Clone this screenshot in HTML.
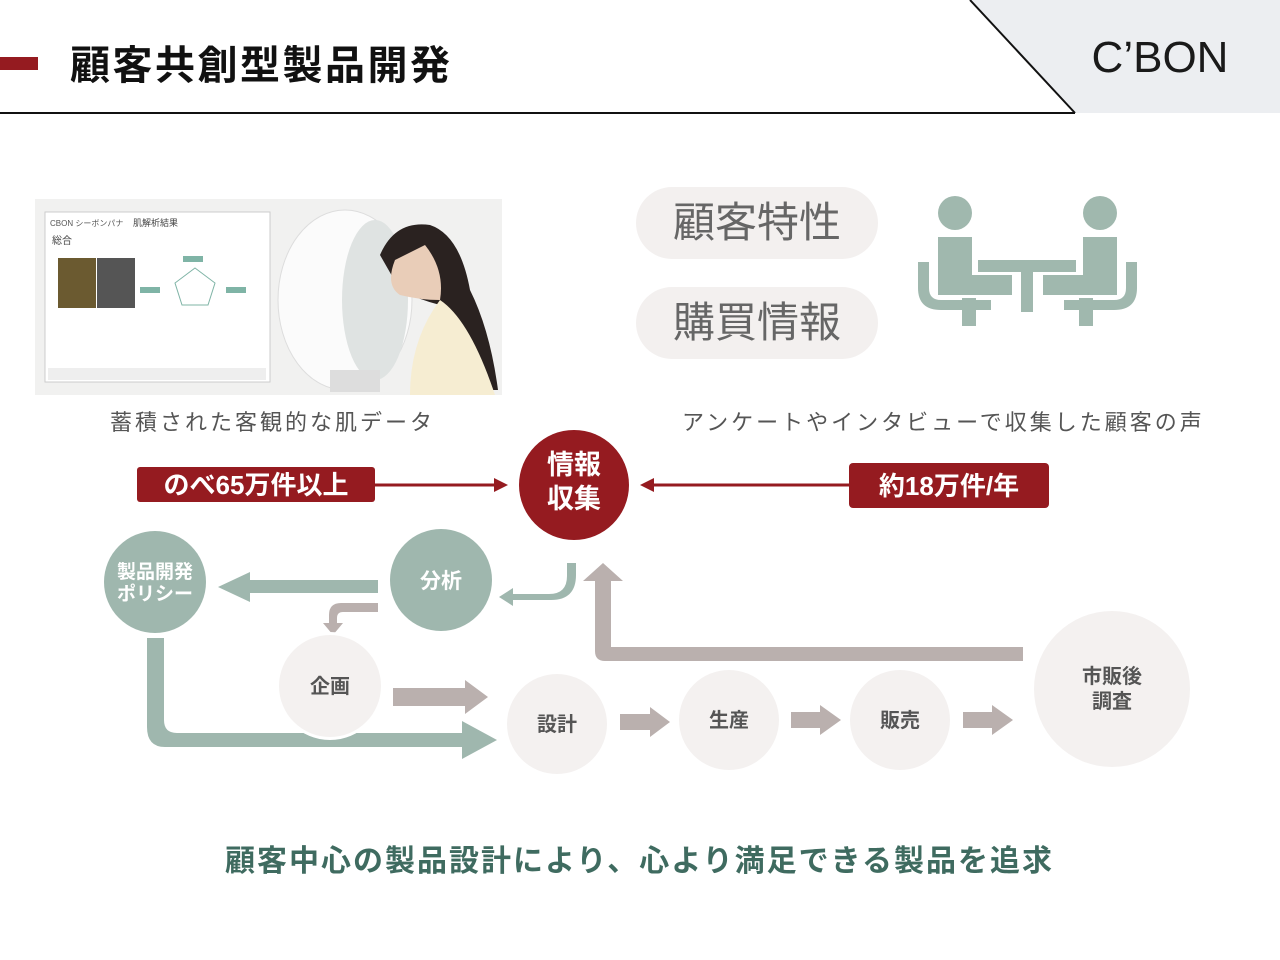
<!DOCTYPE html>
<html><head><meta charset="utf-8"><style>
body{margin:0;width:1280px;height:960px;background:#fff;overflow:hidden}
svg{display:block}
text{font-family:"Liberation Sans","Noto Sans CJK JP",sans-serif}
</style></head><body>
<svg width="1280" height="960" viewBox="0 0 1280 960">
<polygon points="970,0 1280,0 1280,113 1075,113" fill="#eceef1"/>
<line x1="970" y1="0" x2="1075" y2="113" stroke="#111" stroke-width="2"/>
<line x1="0" y1="113" x2="1075" y2="113" stroke="#111" stroke-width="2"/>
<rect x="0" y="57" width="38" height="13" fill="#951b20"/>
<text x="70" y="79" font-size="40" font-weight="bold" fill="#111" letter-spacing="2.5">顧客共創型製品開発</text>
<text x="1160" y="72" font-size="44" fill="#1a1a1a" text-anchor="middle">C’BON</text>

<!-- photo -->
<rect x="35" y="199" width="467" height="196" fill="#f1f1f0"/>
<rect x="45" y="212" width="225" height="170" fill="#fff" stroke="#ccc"/>
<text x="50" y="226" font-size="8" fill="#555">CBON シーボンパナ</text>
<text x="133" y="226" font-size="9" fill="#444">肌解析結果</text>
<text x="52" y="244" font-size="10" fill="#444">総合</text>
<rect x="58" y="258" width="38" height="50" fill="#6b5a30"/>
<rect x="97" y="258" width="38" height="50" fill="#555"/>
<polygon points="195,268 215,283 208,305 182,305 175,283" fill="none" stroke="#7fb4a6"/>
<rect x="183" y="256" width="20" height="6" fill="#7fb4a6"/>
<rect x="140" y="287" width="20" height="6" fill="#7fb4a6"/>
<rect x="226" y="287" width="20" height="6" fill="#7fb4a6"/>
<rect x="48" y="368" width="218" height="12" fill="#eee"/>
<ellipse cx="345" cy="300" rx="67" ry="90" fill="#fbfbfb" stroke="#ddd"/>
<ellipse cx="375" cy="300" rx="33" ry="80" fill="#dfe3e2"/>
<rect x="330" y="370" width="50" height="22" fill="#ddd"/>
<path d="M380 255 Q395 220 430 225 Q460 235 470 290 Q490 330 498 390 L470 390 Q450 330 440 305 Q420 300 400 290 Z" fill="#2a2220"/>
<path d="M440 300 Q470 320 495 395 L410 395 Q410 340 440 300Z" fill="#f6edd2"/>
<path d="M395 260 Q385 285 400 295 Q420 300 440 300 Q445 270 425 245Z" fill="#e9cdb8"/>

<!-- pills -->
<rect x="636" y="187" width="242" height="72" rx="36" fill="#f3f0ef"/>
<text x="757" y="237" font-size="42" fill="#666" text-anchor="middle">顧客特性</text>
<rect x="636" y="287" width="242" height="72" rx="36" fill="#f3f0ef"/>
<text x="757" y="337" font-size="42" fill="#666" text-anchor="middle">購買情報</text>

<!-- people icon -->
<g fill="#a0b8ae">
<circle cx="955" cy="213" r="17"/><circle cx="1100" cy="213" r="17"/>
<path d="M938 237 h34 v38 h40 v20 h-74 z"/>
<path d="M1117 237 h-34 v38 h-40 v20 h74 z"/>
<path d="M918 262 h11 v26 q0 12 12 12 h50 v10 h-50 q-23 0 -23 -22 z"/>
<path d="M1137 262 h-11 v26 q0 12 -12 12 h-50 v10 h50 q23 0 23 -22 z"/>
<rect x="962" y="298" width="14" height="28"/><rect x="1079" y="298" width="14" height="28"/>
<rect x="978" y="260" width="98" height="12"/>
<rect x="1021" y="272" width="12" height="40"/>
</g>

<text x="110" y="430" font-size="22" fill="#555" letter-spacing="3">蓄積された客観的な肌データ</text>
<text x="682" y="430" font-size="22" fill="#555" letter-spacing="3">アンケートやインタビューで収集した顧客の声</text>

<!-- red -->
<line x1="375" y1="485" x2="498" y2="485" stroke="#951b20" stroke-width="3"/>
<polygon points="508,485 494,478 494,492" fill="#951b20"/>
<line x1="849" y1="485" x2="652" y2="485" stroke="#951b20" stroke-width="3"/>
<polygon points="640,485 654,478 654,492" fill="#951b20"/>
<rect x="137" y="467" width="238" height="35" rx="3" fill="#951b20"/>
<text x="256" y="494" font-size="26" font-weight="bold" fill="#fff" text-anchor="middle">のべ65万件以上</text>
<rect x="849" y="463" width="200" height="45" rx="4" fill="#951b20"/>
<text x="949" y="495" font-size="26" font-weight="bold" fill="#fff" text-anchor="middle">約18万件/年</text>
<circle cx="574" cy="485" r="55" fill="#951b20"/>
<text x="574" y="474" font-size="27" font-weight="bold" fill="#fff" text-anchor="middle">情報</text>
<text x="574" y="508" font-size="27" font-weight="bold" fill="#fff" text-anchor="middle">収集</text>

<!-- grey-brown arrows -->
<g fill="#bab0ae">
<path d="M1023 647 v14 h-418 q-10 0 -10 -10 v-70 h-12 l20 -18 l20 18 h-12 v66 h412z"/>
<path d="M378 603 v9 h-35 q-6 0 -6 6 v5 h6 l-10 12 l-10 -12 h6 v-8 q0 -12 12 -12z"/>
<polygon points="393,688 465,688 465,680 488,697 465,714 465,706 393,706"/>
<polygon points="620,714 650,714 650,707 670,722 650,737 650,730 620,730"/>
<polygon points="791,712 820,712 820,705 841,720 820,735 820,728 791,728"/>
<polygon points="963,712 992,712 992,705 1013,720 992,735 992,728 963,728"/>
</g>
<!-- green arrows -->
<g fill="#9fb7ae">
<polygon points="378,580 378,593 250,593 250,602 218,587 250,572 250,580"/>
<path d="M567 563 h9 v12 q0 25 -25 25 h-38 v6 l-14 -9 l14 -9 v6 h36 q18 0 18 -18z"/>
<path d="M147 638 h17 v82 q0 13 13 13 h285 v-12 l35 19 l-35 19 v-12 h-297 q-18 0 -18 -20z"/>
</g>

<circle cx="155" cy="582" r="51" fill="#9fb7ae"/>
<text x="155" y="578" font-size="19" font-weight="bold" fill="#fff" text-anchor="middle">製品開発</text>
<text x="155" y="600" font-size="19" font-weight="bold" fill="#fff" text-anchor="middle">ポリシー</text>
<circle cx="441" cy="580" r="51" fill="#9fb7ae"/>
<text x="441" y="588" font-size="21" font-weight="bold" fill="#fff" text-anchor="middle">分析</text>

<circle cx="330" cy="686" r="54" fill="#fff"/>
<circle cx="330" cy="686" r="51" fill="#f4f1f0"/>
<text x="330" y="693" font-size="20" font-weight="bold" fill="#555" text-anchor="middle">企画</text>
<circle cx="557" cy="724" r="50" fill="#f4f1f0"/>
<text x="557" y="731" font-size="20" font-weight="bold" fill="#555" text-anchor="middle">設計</text>
<circle cx="729" cy="720" r="50" fill="#f4f1f0"/>
<text x="729" y="727" font-size="20" font-weight="bold" fill="#555" text-anchor="middle">生産</text>
<circle cx="900" cy="720" r="50" fill="#f4f1f0"/>
<text x="900" y="727" font-size="20" font-weight="bold" fill="#555" text-anchor="middle">販売</text>
<circle cx="1112" cy="689" r="78" fill="#f4f1f0"/>
<text x="1112" y="683" font-size="20" font-weight="bold" fill="#555" text-anchor="middle">市販後</text>
<text x="1112" y="708" font-size="20" font-weight="bold" fill="#555" text-anchor="middle">調査</text>

<text x="225" y="871" font-size="30" font-weight="bold" fill="#3f6b60" letter-spacing="2">顧客中心の製品設計により、心より満足できる製品を追求</text>
</svg>
</body></html>
